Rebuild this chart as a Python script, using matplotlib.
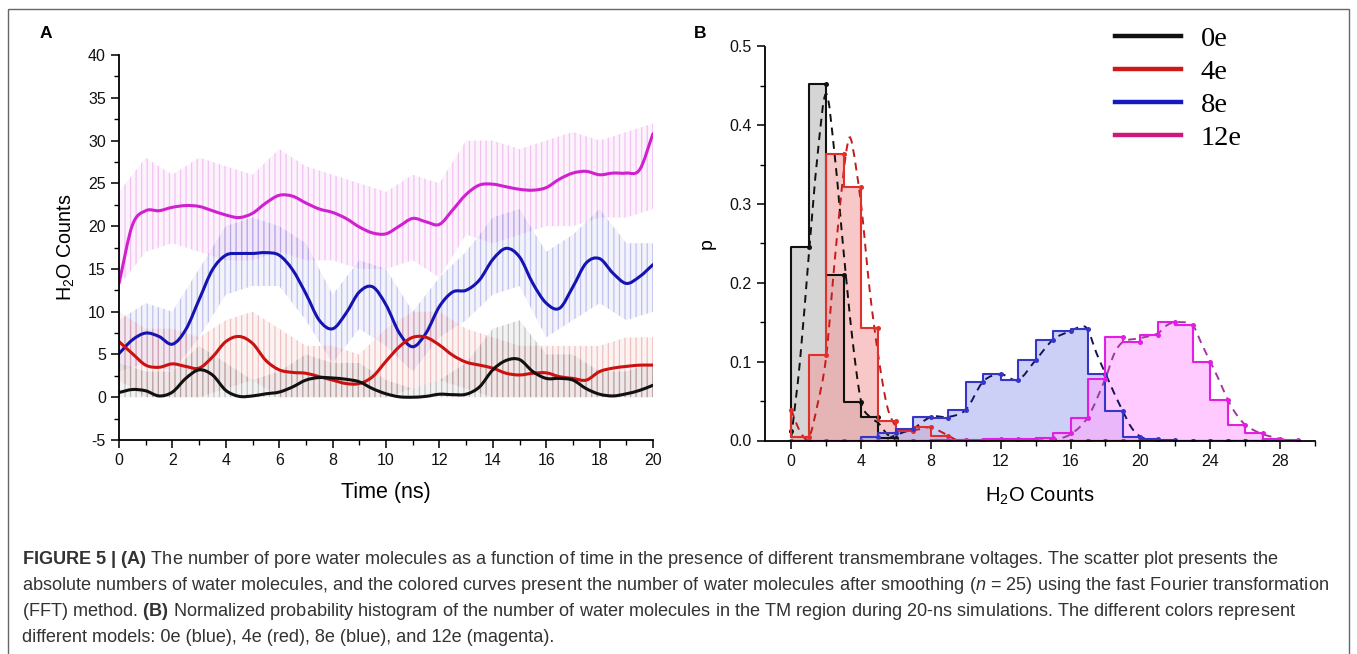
import numpy as np
import matplotlib
matplotlib.use("Agg")
import matplotlib.pyplot as plt
from matplotlib.ticker import MultipleLocator, FormatStrFormatter
from matplotlib.patches import Rectangle, PathPatch
from matplotlib.path import Path

plt.rcParams['font.family'] = ['Liberation Sans', 'DejaVu Sans']
plt.rcParams['mathtext.fontset'] = 'custom'
plt.rcParams['mathtext.rm'] = 'Liberation Sans'
plt.rcParams['mathtext.it'] = 'Liberation Sans:italic'
plt.rcParams['mathtext.bf'] = 'Liberation Sans:bold'
plt.rcParams['hatch.linewidth'] = 0.9
plt.rcParams['axes.unicode_minus'] = False

# ---------------- Panel A data: smoothed curves (every 0.5 ns) ----------------
time_smooth = [0, 0.5, 1, 1.5, 2, 2.5, 3, 3.5, 4, 4.5, 5, 5.5, 6, 6.5, 7, 7.5, 8, 8.5, 9, 9.5,
               10, 10.5, 11, 11.5, 12, 12.5, 13, 13.5, 14, 14.5, 15, 15.5, 16, 16.5, 17, 17.5,
               18, 18.5, 19, 19.5, 20]
smooth_0e = [0.55, 0.9, 0.75, 0.15, 0.6, 2.2, 3.2, 2.6, 0.8, 0.1, 0.15, 0.4, 0.6, 1.2, 2.0, 2.3,
             2.25, 2.1, 1.8, 1.0, 0.4, 0.05, 0.0, 0.1, 0.35, 0.3, 0.35, 1.2, 3.2, 4.3, 4.4, 3.0,
             2.2, 2.2, 2.0, 1.0, 0.35, 0.15, 0.4, 0.8, 1.4]
smooth_4e = [6.5, 5.1, 3.75, 3.5, 3.9, 3.6, 3.4, 4.7, 6.5, 7.1, 6.3, 4.3, 3.2, 2.9, 2.8, 2.4,
             2.0, 1.6, 1.6, 2.4, 4.2, 5.9, 7.0, 7.0, 6.1, 4.9, 4.1, 3.75, 3.4, 2.8, 2.6, 2.8,
             2.85, 2.4, 2.2, 2.0, 3.0, 3.4, 3.6, 3.75, 3.75]
smooth_8e = [5.1, 6.7, 7.5, 7.1, 6.2, 7.9, 11.4, 14.9, 16.6, 16.8, 16.8, 16.9, 16.6, 14.9, 12.1,
             9.0, 8.0, 9.8, 12.3, 12.9, 10.8, 7.5, 5.9, 7.5, 10.6, 12.3, 12.5, 13.7, 16.1, 17.4,
             16.4, 13.3, 11.0, 10.4, 12.9, 15.7, 16.2, 14.5, 13.3, 14.1, 15.5]
smooth_12e = [13.3, 20.1, 21.8, 21.8, 22.2, 22.4, 22.3, 21.8, 21.3, 21.0, 21.5, 22.7, 23.6, 23.5,
              22.7, 22.0, 21.6, 20.9, 19.9, 19.2, 19.1, 20.0, 20.9, 20.5, 20.2, 21.9, 23.7, 24.8,
              24.9, 24.6, 24.3, 24.2, 24.5, 25.5, 26.2, 26.4, 26.0, 26.2, 26.2, 26.6, 30.8]

# ---------------- Panel A data: spread of raw counts (every 1 ns) ----------------
time_raw = list(range(21))
raw_lo_0e = [0] * 21
raw_hi_0e = [4, 3, 3, 6, 4, 2, 3, 5, 4, 4, 2, 1, 2, 4, 8, 9, 5, 5, 3, 3, 4]
raw_lo_4e = [2, 0, 0, 0, 1, 2, 0, 0, 0, 0, 0, 1, 2, 1, 0, 0, 0, 0, 0, 0, 0]
raw_hi_4e = [10, 8, 8, 7, 9, 10, 8, 6, 6, 5, 8, 10, 10, 8, 7, 6, 6, 6, 6, 7, 7]
raw_lo_8e = [3, 4, 3, 7, 12, 13, 13, 9, 4, 8, 6, 3, 7, 9, 12, 13, 7, 9, 11, 9, 10]
raw_hi_8e = [9, 11, 10, 15, 20, 21, 20, 18, 12, 16, 15, 10, 14, 17, 21, 22, 17, 19, 22, 18, 18]
raw_lo_12e = [13, 17, 18, 17, 16, 16, 17, 16, 16, 15, 15, 16, 14, 19, 18, 19, 20, 20, 21, 21, 22]
raw_hi_12e = [24, 28, 26, 28, 27, 26, 29, 27, 26, 25, 24, 26, 25, 30, 30, 29, 30, 31, 30, 31, 32]

# ---------------- Panel B data: normalized probabilities ----------------
counts = list(range(30))
p_0e = [0.012, 0.245, 0.453, 0.210, 0.049, 0.030, 0.003] + [0.0] * 23
p_4e = [0.039, 0.004, 0.109, 0.363, 0.322, 0.143, 0.025, 0.0125, 0.017, 0.006, 0.001] + [0.0] * 19
p_8e = [0.0, 0.0, 0.0, 0.0, 0.0, 0.004, 0.010, 0.015, 0.030, 0.029, 0.039, 0.074, 0.084, 0.077,
        0.102, 0.128, 0.139, 0.141, 0.085, 0.038, 0.005, 0.002, 0.001, 0.0, 0.0, 0.0, 0.0, 0.0,
        0.0, 0.0]
p_12e = [0.0] * 9 + [0.001, 0.001, 0.001, 0.002, 0.002, 0.002, 0.003, 0.009, 0.029, 0.078, 0.131,
                     0.125, 0.134, 0.150, 0.147, 0.100, 0.052, 0.020, 0.010, 0.002, 0.001]

# fitted (dashed) curves
fit_x_0e = [0, 0.5, 1, 1.5, 2, 2.5, 3, 3.5, 4, 4.5, 5, 5.5, 6]
fit_0e = [0.003, 0.10, 0.233, 0.36, 0.44, 0.36, 0.24, 0.13, 0.05, 0.03, 0.022, 0.008, 0.001]
fit_x_4e = [0, 0.5, 1, 1.5, 2, 2.5, 3, 3.3, 3.5, 4, 4.5, 5, 5.5, 6, 6.5, 7, 7.5, 8, 8.5, 9, 9.5]
fit_4e = [0.039, 0.012, 0.003, 0.045, 0.106, 0.23, 0.34, 0.383, 0.375, 0.30, 0.19, 0.106, 0.043,
          0.018, 0.012, 0.013, 0.015, 0.017, 0.012, 0.006, 0.0]
fit_x_8e = [5.5, 6, 6.5, 7, 8, 9, 10, 11, 12, 13, 14, 15, 16, 16.7, 17, 17.5, 18, 18.5, 19,
            19.5, 20, 20.5]
fit_8e = [0.002, 0.007, 0.011, 0.015, 0.030, 0.030, 0.039, 0.075, 0.084, 0.077, 0.102, 0.128,
          0.139, 0.145, 0.140, 0.110, 0.085, 0.060, 0.037, 0.016, 0.005, 0.001]
fit_x_12e = [14, 15, 16, 17, 18, 18.5, 19, 20, 21, 21.5, 22, 23, 23.5, 24, 24.5, 25, 25.5, 26,
             26.5, 27, 28, 28.5]
fit_12e = [0.0, 0.001, 0.008, 0.030, 0.079, 0.110, 0.125, 0.130, 0.136, 0.146, 0.150, 0.146,
           0.123, 0.100, 0.077, 0.052, 0.033, 0.020, 0.013, 0.008, 0.002, 0.0]

labels = ['0e', '4e', '8e', '12e']


def smooth_curve(ax, xs, ys, **kw):
    """Draw a smooth Bezier curve through the given points (in data coords)."""
    x = np.asarray(xs, float)
    y = np.asarray(ys, float)
    n = len(x)
    m = np.zeros(n)
    m[1:-1] = (y[2:] - y[:-2]) / (x[2:] - x[:-2])
    m[0] = (y[1] - y[0]) / (x[1] - x[0])
    m[-1] = (y[-1] - y[-2]) / (x[-1] - x[-2])
    verts = [(x[0], y[0])]
    codes = [Path.MOVETO]
    for i in range(n - 1):
        h = x[i + 1] - x[i]
        verts += [(x[i] + h / 3, y[i] + m[i] * h / 3),
                  (x[i + 1] - h / 3, y[i + 1] - m[i + 1] * h / 3),
                  (x[i + 1], y[i + 1])]
        codes += [Path.CURVE4] * 3
    patch = PathPatch(Path(verts, codes), fill=False, **kw)
    ax.add_patch(patch)
    return patch


fig = plt.figure(figsize=(13.57, 6.54), dpi=100)

# outer frame
fig.patches.append(Rectangle((8 / 1357, -0.01), 1341 / 1357, 1 - 9 / 654 + 0.01,
                             transform=fig.transFigure, fill=False, edgecolor='#666666',
                             linewidth=1.0))

# ================= Panel A =================
axA = fig.add_axes([119 / 1357, 1 - 440 / 654, 534 / 1357, 385 / 654])
t_r = np.array(time_raw)
raw_sets = [(raw_lo_0e, raw_hi_0e, '#8a8a8a'), (raw_lo_4e, raw_hi_4e, '#e88a8a'),
            (raw_lo_8e, raw_hi_8e, '#8c8ce0'), (raw_lo_12e, raw_hi_12e, '#e890e8')]
for lo, hi, c in raw_sets[::-1]:
    axA.fill_between(t_r, lo, hi, facecolor=c, alpha=0.10, linewidth=0)
    axA.fill_between(t_r, lo, hi, facecolor='none', edgecolor=c, hatch='|||', linewidth=0,
                     alpha=0.5)

curve_cols = ['#111111', '#cc1111', '#1414b4', '#d020d0']
for ys, c in zip([smooth_12e, smooth_8e, smooth_4e, smooth_0e], curve_cols[::-1]):
    smooth_curve(axA, time_smooth, ys, edgecolor=c, lw=2.2, capstyle='round')

axA.set_xlim(0, 20)
axA.set_ylim(-5, 40)
axA.spines['top'].set_visible(False)
axA.spines['right'].set_visible(False)
axA.spines['left'].set_linewidth(1.3)
axA.spines['bottom'].set_linewidth(1.3)
axA.xaxis.set_major_locator(MultipleLocator(2))
axA.xaxis.set_minor_locator(MultipleLocator(1))
axA.yaxis.set_major_locator(MultipleLocator(5))
axA.yaxis.set_minor_locator(MultipleLocator(2.5))
axA.tick_params(which='major', direction='out', length=6, width=1.2, labelsize=11.5,
                colors='#111111')
axA.tick_params(which='minor', direction='out', length=3.5, width=1.0)
axA.set_xlabel('Time (ns)', fontsize=15.5, labelpad=10)
axA.set_ylabel('H$_2$O Counts', fontsize=14.2, labelpad=8)
fig.text(40 / 1357, 1 - 33 / 654, 'A', fontsize=12.5, fontweight='bold', ha='left',
         va='center')

# ================= Panel B =================
axB = fig.add_axes([765 / 1357, 1 - 440.5 / 654, 550 / 1357, 394 / 654])
xb = np.array(counts)
step_cols = ['#111111', '#e0302c', '#3535c8', '#e21ee2']
fill_cols = ['#c8c8c8', '#f49a9a', '#aab0f0', '#ffa8ff']
fill_alpha = [0.75, 0.55, 0.6, 0.6]
dash_cols = ['#111111', '#c41c1c', '#14145a', '#a03aa0']
ps = [p_0e, p_4e, p_8e, p_12e]
for p, fc, fa in zip(ps, fill_cols, fill_alpha):
    axB.fill_between(xb, 0, p, step='pre', facecolor=fc, alpha=fa, linewidth=0)
for p, sc in zip(ps, step_cols):
    axB.plot(xb, p, drawstyle='steps-pre', color=sc, lw=1.5)
    axB.plot(xb, p, 'o', color=sc, ms=3.6, mec='none')
fits = [(fit_x_0e, fit_0e), (fit_x_4e, fit_4e), (fit_x_8e, fit_8e), (fit_x_12e, fit_12e)]
for (fx, fy), dc in zip(fits, dash_cols):
    smooth_curve(axB, fx, fy, edgecolor=dc, lw=1.4, linestyle=(0, (4, 3)))

axB.set_xlim(-1.5, 30)
axB.set_ylim(0, 0.5)
axB.spines['top'].set_visible(False)
axB.spines['right'].set_visible(False)
axB.spines['left'].set_linewidth(1.3)
axB.spines['bottom'].set_linewidth(1.3)
axB.xaxis.set_major_locator(MultipleLocator(4))
axB.xaxis.set_minor_locator(MultipleLocator(2))
axB.yaxis.set_major_locator(MultipleLocator(0.1))
axB.yaxis.set_minor_locator(MultipleLocator(0.05))
axB.yaxis.set_major_formatter(FormatStrFormatter('%.1f'))
axB.tick_params(which='major', direction='out', length=6, width=1.2, labelsize=11.5,
                colors='#111111')
axB.tick_params(which='minor', direction='out', length=3.5, width=1.0)
axB.set_xlabel('H$_2$O Counts', fontsize=14.5, labelpad=12)
axB.set_ylabel('p', fontsize=14, labelpad=10)
fig.text(694 / 1357, 1 - 33 / 654, 'B', fontsize=12.5, fontweight='bold', ha='left',
         va='center')

leg_cols = ['#111111', '#d01818', '#1818c0', '#d0187c']
handles = [plt.Line2D([], [], color=c, lw=3.2) for c in leg_cols]
axB.legend(handles, labels, loc='upper left', bbox_to_anchor=(0.637, 1.052), frameon=False,
           prop={'family': 'Liberation Serif', 'size': 20.5}, handlelength=2.3,
           handletextpad=0.7, labelspacing=0.25, borderaxespad=0, borderpad=0)

# ================= Caption =================
cap_lines = [
    r'$\mathbf{FIGURE\ 5\ |\ (A)}$ The number of pore water molecules as a function of time in the presence of different transmembrane voltages. The scatter plot presents the',
    r'absolute numbers of water molecules, and the colored curves present the number of water molecules after smoothing ($\mathit{n}$ = 25) using the fast Fourier transformation',
    r'(FFT) method. $\mathbf{(B)}$ Normalized probability histogram of the number of water molecules in the TM region during 20-ns simulations. The different colors represent',
    r'different models: 0e (blue), 4e (red), 8e (blue), and 12e (magenta).',
]
for i, line in enumerate(cap_lines):
    fig.text(22 / 1357, 1 - (559 + 26.3 * i) / 654, line, fontsize=13.1, color='#333333',
             ha='left', va='center')

fig.savefig('out.png', dpi=100)
